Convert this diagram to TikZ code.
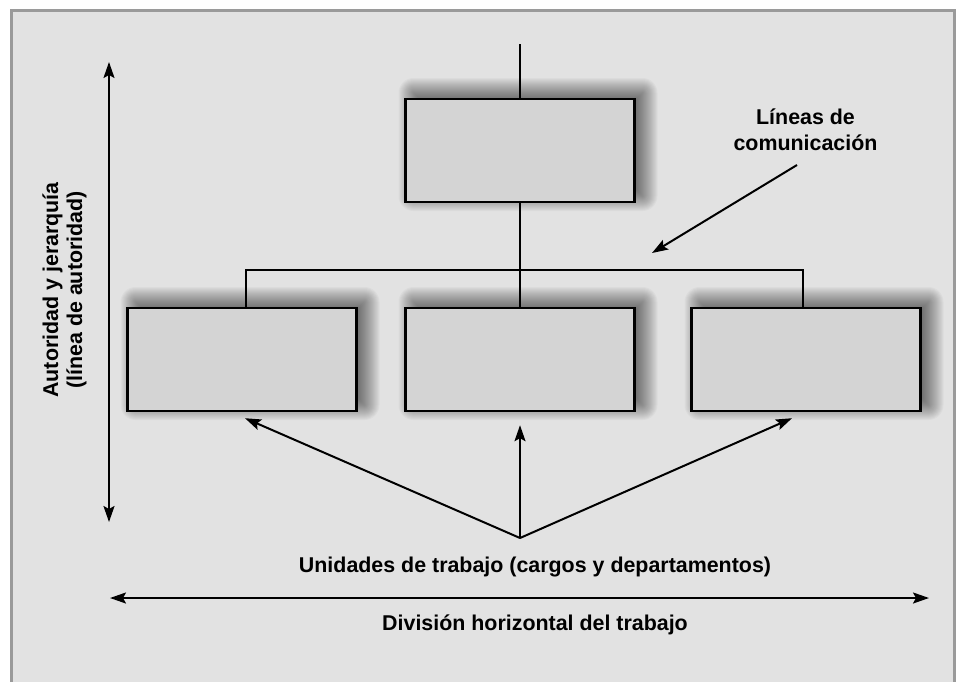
\documentclass[tikz,border=0pt]{standalone}
\usepackage{fontspec}
\setmainfont{Liberation Sans}
\usetikzlibrary{arrows.meta}
\definecolor{bg}{HTML}{E2E2E2}
\definecolor{boxfill}{HTML}{D4D4D4}
\definecolor{framegray}{HTML}{9A9A9A}
\begin{document}
\begin{tikzpicture}[x=1pt,y=-1pt,
  unitbox/.style={draw=black, line width=2.4pt, fill=boxfill,
    minimum width=229pt, minimum height=103pt, inner sep=0pt},
  shadowlayer/.style={fill=black, opacity=0.026},
  conn/.style={line width=2.2pt},
  tip/.style={-{Stealth[length=16pt,width=11pt,inset=3pt]}},
  arr/.style={line width=2pt, tip},
  dbl/.style={line width=2pt, {Stealth[length=16pt,width=11pt,inset=3pt]}-{Stealth[length=16pt,width=11pt,inset=3pt]}},
  lbl/.style={font=\bfseries\fontsize{21.4}{25}\selectfont, inner sep=0pt, anchor=base}]
\useasboundingbox (0,0) rectangle (957,681);
\fill[white] (0,0) rectangle (957,681);
\filldraw[fill=bg, draw=framegray, line width=3pt] (11,10) rectangle (954,700);

% soft shadows behind the boxes
\foreach \cx/\cy in {520/150.5, 242/359.5, 520/359.5, 806/359.5} {
  \foreach \k in {0,...,21} {
    \pgfmathsetmacro\rr{15-\k}
    \pgfmathsetmacro\rc{max(\rr,1)}
    \fill[shadowlayer, rounded corners=\rc pt]
      (\cx-114.5+8-\rr, \cy-51.5-6-\rr) rectangle (\cx+114.5+8+\rr, \cy+51.5-6+\rr);
  }
}

% boxes
\node[unitbox] (top) at (520,150.5) {};
\node[unitbox] (left) at (242,359.5) {};
\node[unitbox] (mid) at (520,359.5) {};
\node[unitbox] (right) at (806,359.5) {};

% lines of authority / communication
\coordinate (topin) at (520,44);
\coordinate (busL) at (246,270);
\coordinate (busM) at (520,270);
\coordinate (busR) at (803,270);
\draw[conn] (topin) -- (top.north);
\draw[conn] (top.south) -- (busM);
\draw[conn] (busL |- left.north) -- (busL) -- (busR) -- (busR |- right.north);
\draw[conn] (busM) -- (mid.north);

% Lineas de comunicacion
\node[lbl] (lin1) at (805.5,124) {Líneas de};
\node[lbl] (lin2) at (805.5,150) {comunicación};
\coordinate (lcs) at (797,165);
\coordinate (lct) at (652,253);
\draw[arr] (lcs) -- (lct);

% work units arrows
\coordinate (apex) at (520,538);
\draw[arr] (apex) -- ([shift={(3pt,-6pt)}]left.south);
\draw[arr] (apex) -- ([yshift=-13pt]mid.south);
\draw[arr] (apex) -- ([shift={(-14pt,-6pt)}]right.south);
\node[lbl] (units) at (535,572) {Unidades de trabajo (cargos y departamentos)};

% horizontal division
\coordinate (hl) at (110,598);
\coordinate (hr) at (929,598);
\draw[dbl] (hl) -- (hr);
\node[lbl] (hdiv) at (535,630) {División horizontal del trabajo};

% vertical authority
\coordinate (vt) at (109,62);
\coordinate (vb) at (109,522);
\draw[dbl] (vt) -- (vb);
\node[lbl, rotate=90] (auth1) at (58,290) {Autoridad y jerarquía};
\node[lbl, rotate=90] (auth2) at (82,290) {(línea de autoridad)};
\end{tikzpicture}
\end{document}
